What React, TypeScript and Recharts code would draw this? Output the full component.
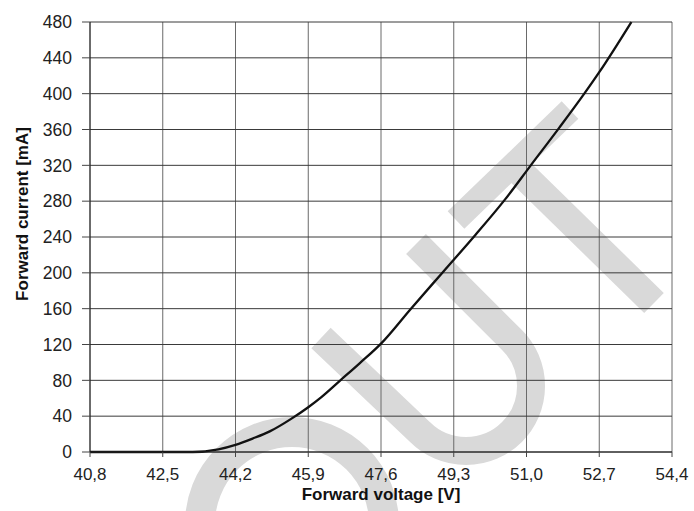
import React from "react";
import { CartesianGrid, Line, LineChart, XAxis, YAxis } from "recharts";

const voltage = [
  40.8, 43.2, 43.8, 44.2, 44.6, 45.0, 45.5, 45.9, 46.2, 46.65, 47.1, 47.6, 48.3, 49.05, 49.8, 50.5,
  51.1, 51.75, 52.35, 52.7, 53.45,
];
const current = [0, 0, 3, 8, 15, 23, 37, 50, 61, 80, 99, 121, 160, 201, 242, 282, 320, 361, 400, 424, 480];
const xTicks = [40.8, 42.5, 44.2, 45.9, 47.6, 49.3, 51.0, 52.7, 54.4];
const yTicks = [0, 40, 80, 120, 160, 200, 240, 280, 320, 360, 400, 440, 480];

const data = voltage.map((v, i) => ({ v, i: current[i] }));

const FONT = "'Liberation Sans', Arial, sans-serif";
const W = 694;
const H = 511;
const WM = "#d9d9d9";

const comma = (v: number) => v.toFixed(1).replace(".", ",");

function XTitle() {
  return (
    <text x={381} y={500} textAnchor="middle" fontFamily={FONT} fontSize={17} fontWeight="bold" fill="#111">
      Forward voltage [V]
    </text>
  );
}

function YTitle() {
  return (
    <text
      x={0}
      y={0}
      transform="translate(28,214) rotate(-90)"
      textAnchor="middle"
      fontFamily={FONT}
      fontSize={17}
      fontWeight="bold"
      fill="#111"
    >
      Forward current [mA]
    </text>
  );
}

// light grey watermark letters behind the plot
function Watermark() {
  return (
    <svg width={W} height={H} style={{ position: "absolute", left: 0, top: 0 }}>
      <circle cx={292} cy={524} r={92} fill="none" stroke={WM} strokeWidth={30} />
      <path d="M 321 338 L 420 432 A 65 65 0 0 0 512 340 L 416 244" fill="none" stroke={WM} strokeWidth={28} />
      <path d="M 456 220 L 570 110" stroke={WM} strokeWidth={24} />
      <path d="M 513 165 L 654 303" stroke={WM} strokeWidth={28} />
    </svg>
  );
}

export default function App() {
  return (
    <div style={{ position: "absolute", left: 0, top: 0, width: W, height: H, background: "#fff" }}>
      <Watermark />
      <div style={{ position: "absolute", left: 0, top: 0 }}>
        <LineChart width={W} height={H} data={data} margin={{ top: 22, right: 22, bottom: 0, left: 0 }}>
          <CartesianGrid horizontal={false} stroke="#6a6a6a" strokeWidth={1} />
          <CartesianGrid vertical={false} stroke="#3a3a3a" strokeWidth={1} />
          <XAxis
            dataKey="v"
            type="number"
            domain={[40.8, 54.4]}
            ticks={xTicks}
            tickFormatter={comma}
            interval={0}
            height={59}
            tickSize={5}
            tickMargin={11}
            axisLine={{ stroke: "#222" }}
            tickLine={{ stroke: "#444" }}
            tick={{ fill: "#222", fontSize: 17, fontFamily: FONT }}
            label={<XTitle />}
          />
          <YAxis
            type="number"
            domain={[0, 480]}
            ticks={yTicks}
            interval={0}
            width={90}
            tickSize={8}
            tickMargin={10}
            axisLine={{ stroke: "#222" }}
            tickLine={{ stroke: "#444" }}
            tick={{ fill: "#222", fontSize: 17.5, fontFamily: FONT }}
            label={<YTitle />}
          />
          <Line
            dataKey="i"
            type="monotone"
            stroke="#111"
            strokeWidth={2.3}
            dot={false}
            isAnimationActive={false}
          />
        </LineChart>
      </div>
    </div>
  );
}
